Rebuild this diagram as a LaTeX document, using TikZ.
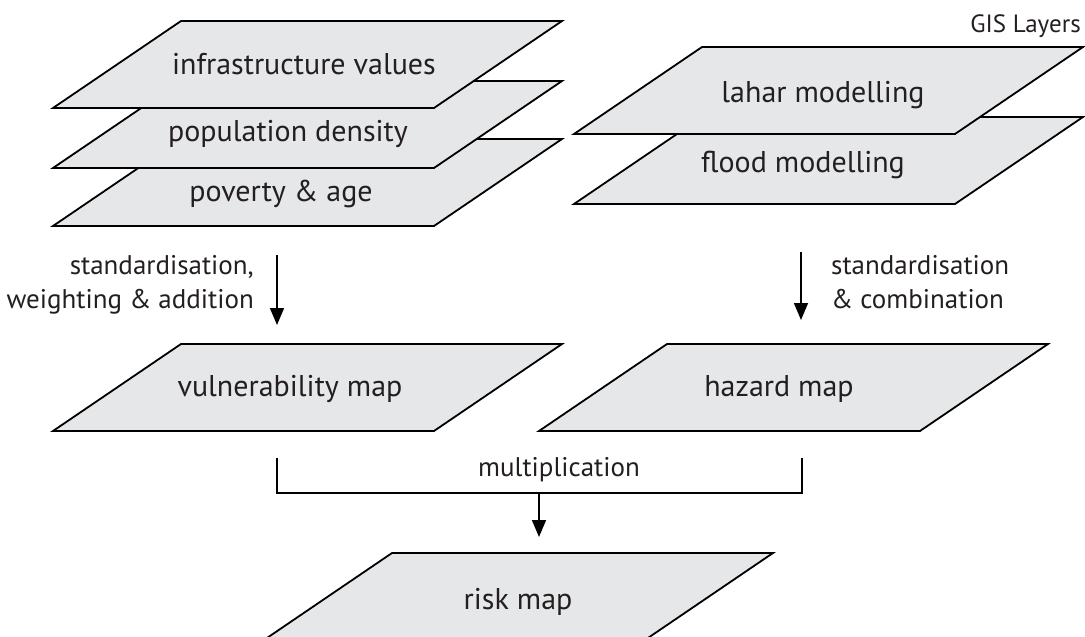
\documentclass[tikz,border=0pt]{standalone}
\usepackage{fontspec}
\setmainfont{PT Sans}
\usetikzlibrary{arrows.meta}
\definecolor{layerfill}{HTML}{E6E7E8}
\definecolor{txt}{HTML}{231F20}
\tikzset{
  layer/.style={fill=layerfill, draw=black, line width=1.8pt, line join=miter},
  lbl/.style={text=txt, font=\fontsize{30}{34}\selectfont, inner sep=0pt},
  note/.style={text=txt, font=\fontsize{27}{34}\selectfont, inner sep=0pt},
  gis/.style={text=txt, font=\fontsize{25}{29}\selectfont, inner sep=0pt},
  flow/.style={draw=black, line width=1.6pt, -{Triangle[width=14pt,length=17pt]}},
  brace/.style={draw=black, line width=1.6pt},
}
\newcommand\mylayer[2]{\path[layer] (#1,#2) -- ++(381,0) -- ++(-128,87) -- ++(-381,0) -- cycle;}
\begin{document}
\begin{tikzpicture}[x=1pt,y=-1pt]
\useasboundingbox (0,0) rectangle (1085,637);
\clip (0,0) rectangle (1085,637);
% left stack
\mylayer{181}{139}
\node[lbl] (pov) at (281,194) {poverty \& age};
\mylayer{181}{81}
\node[lbl] (pop) at (288,134) {population density};
\mylayer{181}{21}
\node[lbl] (infra) at (304,64) {infrastructure values};
% right stack
\mylayer{702}{117}
\node[lbl] (flood) at (803,165) {flood modelling};
\mylayer{702}{47}
\node[lbl] (lahar) at (823,95) {lahar modelling};
\node[gis, anchor=east] (gisl) at (1081,26) {GIS Layers};
% maps
\mylayer{181}{344}
\node[lbl] (vuln) at (290,389) {vulnerability map};
\mylayer{667}{344}
\node[lbl] (haz) at (779,389) {hazard map};
\mylayer{392}{553}
\node[lbl] (risk) at (518,602) {risk map};
% arrows
\coordinate (la1) at (277,255);
\coordinate (la2) at (277,325);
\draw[flow] (la1) -- (la2);
\node[note, anchor=east, align=right] (lnote) at (254,285) {standardisation,\\weighting \& addition};
\coordinate (ra1) at (801,252);
\coordinate (ra2) at (801,320);
\draw[flow] (ra1) -- (ra2);
\node[note, anchor=west, align=left] (rnote) at (831,282) {standardisation\\\& combination};
% multiplication bracket
\coordinate (bl) at (277,458);
\coordinate (br) at (802,458);
\coordinate (bm) at (539,493);
\coordinate (bt) at (539,537);
\draw[brace] (bl) |- (bm) -| (br);
\draw[flow] (bm) -- (bt);
\node[note] (mult) at (559,470) {multiplication};
\end{tikzpicture}
\end{document}
